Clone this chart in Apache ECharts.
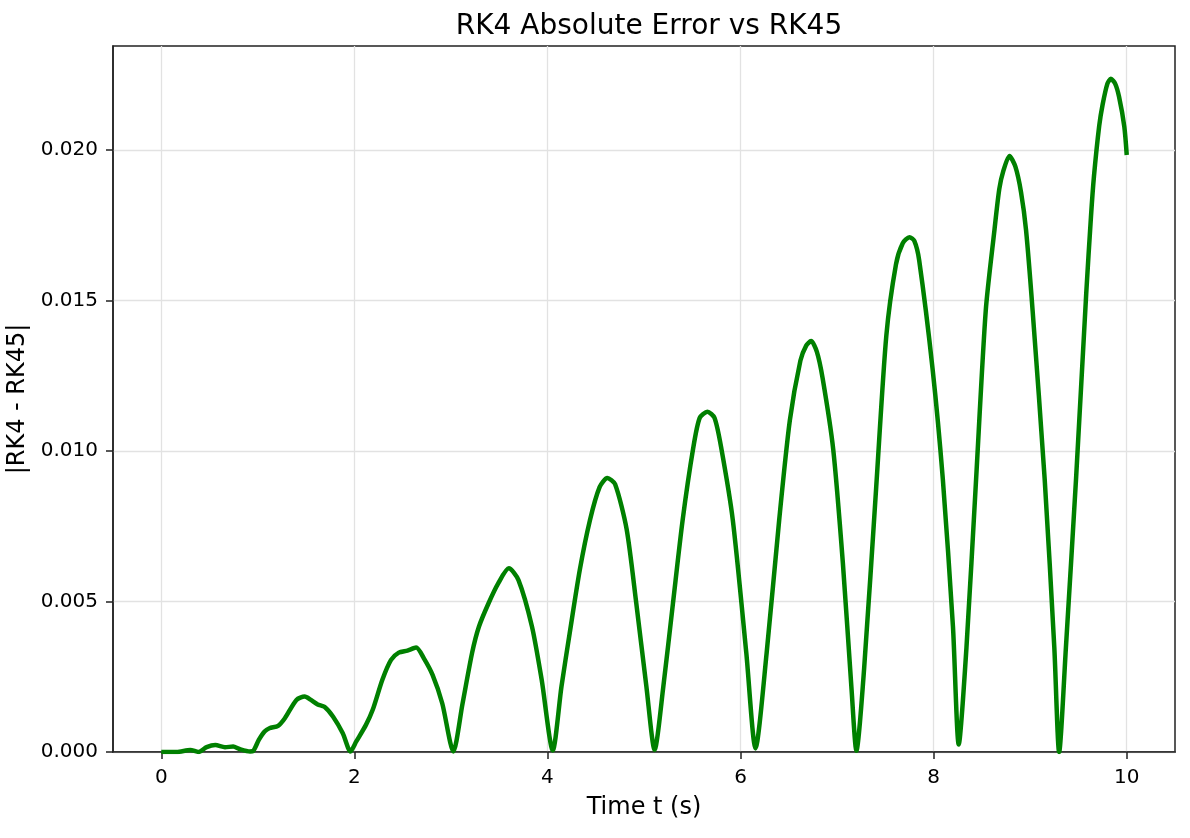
<!DOCTYPE html>
<html>
<head>
<meta charset="utf-8">
<script src="https://cdn.jsdelivr.net/npm/echarts@6/dist/echarts.min.js"></script>
<style>
  html, body { margin: 0; padding: 0; background: #fff; }
  #chart { width: 1190px; height: 838px; }
</style>
</head>
<body>
<div id="chart"></div>
<script>
// time samples (s)
const timeT = [
  0, 0.16, 0.30, 0.385, 0.47, 0.56, 0.66, 0.745, 0.81, 0.92, 0.95, 1.01, 1.07, 1.12, 1.21, 1.28,
  1.40, 1.485, 1.55, 1.62, 1.69, 1.78, 1.88, 1.96, 2.02, 2.12, 2.19, 2.29, 2.38, 2.46, 2.55,
  2.64, 2.72, 2.81, 2.91, 3.025, 3.12, 3.22, 3.29, 3.39, 3.49, 3.60, 3.70, 3.84, 3.94, 4.055,
  4.145, 4.23, 4.335, 4.44, 4.54, 4.62, 4.70, 4.82, 4.92, 5.025, 5.11,
  5.20, 5.30, 5.40, 5.51, 5.577, 5.657, 5.73, 5.80, 5.92, 6.06, 6.155,
  6.27, 6.40, 6.51, 6.62, 6.68, 6.73, 6.79, 6.85, 6.96, 7.06, 7.15, 7.20,
  7.28, 7.405, 7.51, 7.61, 7.68, 7.75, 7.80, 7.85, 7.99, 8.095, 8.20, 8.26,
  8.34, 8.44, 8.54, 8.63, 8.68, 8.722, 8.785, 8.846, 8.905, 8.957, 9.025, 9.15, 9.25, 9.30,
  9.37, 9.475, 9.58, 9.63, 9.66, 9.715, 9.75, 9.80, 9.836, 9.88, 9.92, 9.975, 10.0
];
// |RK4 - RK45|
const absErr = [
  0, 0, 0.00007, 0, 0.00016, 0.00023, 0.00016, 0.00018, 0.0001, 0.00002, 0.00003, 0.0004, 0.00068, 0.00079, 0.00087, 0.00112,
  0.00173, 0.00184, 0.00173, 0.00158, 0.0015, 0.00117, 0.00062, 0.00002, 0.00035, 0.0009, 0.0014, 0.0024, 0.00306, 0.0033, 0.00337,
  0.00347, 0.00311, 0.00256, 0.00162, 0.00002, 0.0016, 0.0033, 0.00416, 0.00494, 0.0056, 0.0061, 0.00571, 0.00416, 0.0024, 0.00005,
  0.00217, 0.00394, 0.00605, 0.0077, 0.0088, 0.0091, 0.0089, 0.0074, 0.00494, 0.00217, 0.00007,
  0.00217, 0.00494, 0.0077, 0.0101, 0.0111, 0.0113, 0.0111, 0.0101, 0.0077, 0.00328, 0.00012,
  0.00328, 0.0077, 0.0110, 0.0130, 0.0135, 0.01365, 0.0133, 0.01242, 0.01005, 0.00627, 0.00207, 0.00004,
  0.00277, 0.00879, 0.01383, 0.0162, 0.0169, 0.0171, 0.01698, 0.01634, 0.0127, 0.00907, 0.00417, 0.00025,
  0.00347, 0.00907, 0.01467, 0.01734, 0.0187, 0.0193, 0.0198, 0.01945, 0.0186, 0.01734, 0.01467, 0.00907, 0.00347, 0,
  0.00347, 0.00907, 0.0152, 0.0178, 0.0191, 0.0208, 0.0215, 0.0222, 0.02236, 0.0222, 0.02177, 0.02077, 0.01983
];
const xTicks = [0, 2, 4, 6, 8, 10];
const yTicks = [0, 0.005, 0.010, 0.015, 0.020];

const chart = echarts.init(document.getElementById('chart'));
const font = 'DejaVu Sans';

chart.setOption({
  backgroundColor: '#ffffff',
  animation: false,
  title: {
    text: 'RK4 Absolute Error vs RK45',
    left: 644, top: 8, textAlign: 'center',
    textStyle: { fontFamily: font, fontSize: 28, fontWeight: 'normal', color: '#000' }
  },
  grid: {
    left: 113, right: 15, top: 46, bottom: 86,
    outerBoundsMode: 'none', containLabel: false,
    show: true, borderColor: '#222', borderWidth: 1.5, backgroundColor: 'transparent'
  },
  xAxis: {
    type: 'value', min: -0.5, max: 10.5,
    name: 'Time t (s)', nameLocation: 'middle', nameGap: 44,
    nameTextStyle: { fontFamily: font, fontSize: 24, color: '#000' },
    axisLine: { show: true, onZero: false, lineStyle: { color: '#222', width: 1.5 } },
    axisTick: { show: true, length: 7, lineStyle: { color: '#222', width: 1.5 }, customValues: xTicks },
    axisLabel: { fontFamily: font, fontSize: 20, color: '#000', margin: 16, customValues: xTicks },
    splitLine: { show: true, lineStyle: { color: '#e2e2e2', width: 1.3 } }
  },
  yAxis: {
    type: 'value', min: 0, max: 0.02345,
    name: '|RK4 - RK45|', nameLocation: 'middle', nameGap: 75,
    nameTextStyle: { fontFamily: font, fontSize: 24, color: '#000' },
    axisLine: { show: true, onZero: false, lineStyle: { color: '#222', width: 1.5 } },
    axisTick: { show: true, length: 7, lineStyle: { color: '#222', width: 1.5 }, customValues: yTicks },
    axisLabel: {
      fontFamily: font, fontSize: 20, color: '#000', margin: 15, customValues: yTicks,
      formatter: v => v.toFixed(3)
    },
    splitLine: { show: true, lineStyle: { color: '#e2e2e2', width: 1.3 } }
  },
  series: [{
    type: 'line',
    data: timeT.map((t, i) => [t, absErr[i]]),
    showSymbol: false,
    smooth: 0.25,
    lineStyle: { color: '#008000', width: 4.5 },
    itemStyle: { color: '#008000' }
  }]
});
</script>
</body>
</html>
